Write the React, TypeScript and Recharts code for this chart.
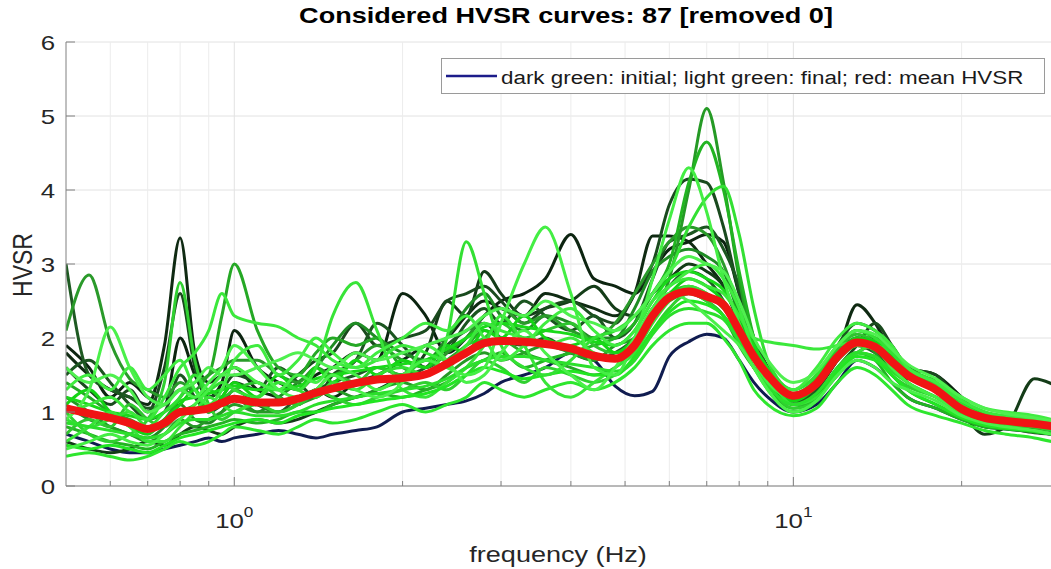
import React from 'react';
import { LineChart, Line, XAxis, YAxis, CartesianGrid, ReferenceLine, Legend, Customized } from 'recharts';

// frequency (Hz) samples
const FREQ = [
  0.5, 0.55, 0.6, 0.65, 0.7, 0.75, 0.8, 0.85, 0.9, 0.95,
  1.0, 1.1, 1.2, 1.3, 1.4, 1.5,
  1.65, 1.8,
  2.0, 2.2, 2.4, 2.6, 2.8, 3.0,
  3.3, 3.6,
  4.0, 4.4, 4.8, 5.2, 5.6,
  6.0, 6.5, 7.0, 7.5, 8.0, 8.5, 9.0,
  10, 11, 12, 13, 14, 15, 16,
  18, 20, 22, 24, 27, 29,
];

const MEAN_HVSR = [
  1.05, 0.98, 0.92, 0.85, 0.77, 0.85, 1.0, 1.02, 1.05, 1.12,
  1.18, 1.13, 1.13, 1.18, 1.26, 1.32,
  1.39, 1.44,
  1.46, 1.51, 1.65, 1.8, 1.93, 1.96,
  1.95, 1.92,
  1.86, 1.76, 1.72, 1.9, 2.3,
  2.55, 2.63, 2.56, 2.45, 2.1, 1.75, 1.5,
  1.22, 1.38, 1.75, 1.94, 1.88, 1.68, 1.5,
  1.3, 1.04, 0.92, 0.88, 0.84, 0.81,
];

const C01 = [3.0, 1.5, 1.3, 1.2, 1.05, 1.1, 1.3, 1.2, 1.0, 1.1, 1.3, 1.1, 1.0, 1.2, 1.3, 1.4, 1.5, 1.6, 1.5, 1.6, 1.9, 2.1, 2.2, 2.0, 1.9, 2.0, 1.8, 1.7, 1.8, 2.0, 2.4, 2.7, 2.9, 2.8, 2.5, 2.0, 1.6, 1.4, 1.15, 1.3, 1.7, 1.9, 1.8, 1.6, 1.4, 1.2, 1.0, 0.9, 0.87, 0.83, 0.8];
const C02 = [2.1, 2.85, 1.95, 1.45, 1.3, 1.2, 1.4, 1.3, 1.5, 1.6, 1.7, 1.7, 1.5, 1.4, 1.6, 1.5, 1.7, 1.9, 1.7, 1.6, 1.8, 2.0, 2.3, 2.4, 2.2, 2.3, 2.1, 2.0, 2.2, 2.6, 3.0, 3.3, 3.5, 3.4, 3.0, 2.4, 1.9, 1.5, 1.2, 1.4, 1.8, 2.0, 1.9, 1.7, 1.5, 1.3, 1.05, 0.95, 0.92, 0.88, 0.85];
const C03 = [1.8, 1.5, 1.3, 1.2, 1.1, 1.9, 3.35, 1.8, 1.4, 1.5, 1.6, 1.3, 1.2, 1.1, 1.3, 1.2, 1.4, 1.5, 1.7, 1.9, 2.0, 2.3, 2.5, 2.4, 2.3, 2.6, 2.5, 2.4, 2.3, 2.6, 3.38, 3.38, 3.3, 3.0, 2.7, 2.2, 1.8, 1.5, 1.1, 1.3, 1.8, 2.45, 2.2, 1.8, 1.5, 1.3, 1.1, 0.9, 0.88, 0.86, 0.85];
const C04 = [1.6, 1.3, 1.1, 1.3, 1.0, 1.6, 2.6, 1.6, 1.2, 1.3, 1.5, 1.4, 1.3, 1.5, 1.7, 1.8, 2.2, 1.9, 2.0, 2.1, 2.5, 2.6, 2.7, 2.5, 2.2, 2.4, 2.5, 2.3, 2.2, 2.6, 3.0, 3.8, 4.15, 4.1, 3.5, 2.6, 1.9, 1.5, 1.1, 1.2, 1.6, 1.9, 2.2, 1.9, 1.6, 1.5, 1.1, 0.8, 0.78, 0.72, 0.7];
const C05 = [1.2, 1.0, 0.8, 0.7, 0.6, 0.7, 0.9, 0.8, 0.9, 1.0, 1.1, 1.0, 1.0, 1.1, 1.2, 1.3, 1.2, 1.3, 1.4, 1.3, 1.5, 1.7, 1.8, 1.7, 1.8, 1.9, 1.8, 1.7, 1.9, 2.0, 2.3, 2.8, 4.0, 5.1, 4.1, 2.8, 1.9, 1.5, 1.2, 1.4, 1.8, 2.0, 1.8, 1.5, 1.3, 1.1, 0.95, 0.85, 0.82, 0.78, 0.75];
const C06 = [0.8, 0.7, 0.6, 0.55, 0.5, 0.6, 0.7, 0.75, 0.8, 0.85, 0.9, 0.85, 0.9, 1.0, 1.0, 1.1, 1.2, 1.25, 1.2, 1.3, 1.4, 1.6, 1.7, 1.8, 1.6, 1.7, 1.8, 1.9, 2.0, 2.2, 2.6, 3.0, 4.1, 4.65, 4.0, 2.9, 2.0, 1.4, 1.05, 1.2, 1.6, 1.8, 1.7, 1.4, 1.2, 1.05, 0.9, 0.8, 0.77, 0.73, 0.7];
const C07 = [0.5, 0.6, 0.7, 0.6, 0.55, 0.7, 0.9, 1.1, 1.3, 1.5, 1.6, 1.4, 1.3, 1.5, 1.4, 1.6, 1.5, 1.3, 1.5, 1.7, 1.6, 1.5, 1.6, 2.2, 3.0, 3.5, 2.6, 1.6, 1.5, 2.0, 2.8, 3.6, 4.3, 3.7, 2.8, 2.2, 1.7, 1.4, 1.2, 1.4, 1.7, 1.9, 1.85, 1.6, 1.4, 1.2, 1.0, 0.9, 0.87, 0.83, 0.8];
const C08 = [0.9, 0.8, 0.9, 1.0, 0.8, 1.0, 1.2, 1.5, 1.3, 1.4, 1.3, 1.2, 1.4, 1.3, 1.2, 1.4, 1.3, 1.5, 1.6, 1.5, 2.0, 3.3, 2.6, 1.9, 1.6, 1.5, 1.7, 2.0, 2.1, 2.3, 2.6, 2.9, 3.5, 3.9, 4.05, 3.4, 2.4, 1.7, 1.3, 1.5, 1.9, 2.1, 2.0, 1.8, 1.55, 1.3, 1.1, 0.95, 0.92, 0.88, 0.85];
const C09 = [1.4, 1.2, 1.0, 0.9, 0.8, 0.9, 1.2, 1.4, 1.5, 2.3, 3.0, 2.1, 1.6, 1.5, 1.8, 2.0, 1.9, 2.0, 1.6, 1.5, 1.7, 1.9, 2.1, 2.0, 1.8, 1.7, 1.6, 1.5, 1.6, 1.9, 2.3, 2.5, 2.6, 2.5, 2.3, 1.9, 1.6, 1.4, 1.2, 1.35, 1.7, 1.9, 1.85, 1.7, 1.5, 1.3, 1.0, 0.9, 0.87, 0.83, 0.8];
const C10 = [1.0, 1.1, 1.2, 1.0, 0.9, 1.2, 1.6, 1.8, 2.1, 2.6, 2.3, 2.2, 2.15, 2.0, 1.9, 1.7, 1.6, 1.7, 1.9, 1.8, 1.7, 1.9, 2.2, 2.1, 2.0, 1.9, 2.0, 1.8, 1.7, 2.0, 2.4, 2.7, 2.8, 2.7, 2.6, 2.3, 2.0, 1.95, 1.9, 1.85, 1.9, 1.95, 1.9, 1.7, 1.5, 1.35, 1.15, 1.0, 0.95, 0.9, 0.85];
const C11 = [0.7, 0.6, 0.5, 0.45, 0.45, 0.5, 0.55, 0.6, 0.65, 0.6, 0.65, 0.7, 0.75, 0.7, 0.65, 0.7, 0.75, 0.8, 1.0, 1.05, 1.1, 1.15, 1.25, 1.4, 1.5, 1.6, 1.8, 1.7, 1.35, 1.22, 1.28, 1.75, 1.95, 2.05, 2.0, 1.7, 1.4, 1.2, 1.0, 1.1, 1.4, 1.7, 1.6, 1.4, 1.2, 1.05, 0.9, 0.8, 0.77, 0.73, 0.7];
const C12 = [1.9, 1.6, 1.2, 1.4, 1.2, 1.1, 2.0, 1.5, 1.2, 1.4, 2.1, 1.6, 1.4, 1.3, 1.5, 1.6, 1.8, 1.7, 2.6, 2.3, 1.8, 2.0, 2.3, 2.5, 2.6, 2.8, 3.4, 2.8, 2.7, 2.6, 2.9, 3.2, 3.3, 3.4, 3.3, 2.6, 2.0, 1.6, 1.15, 1.3, 1.7, 2.0, 2.0, 1.8, 1.6, 1.5, 1.2, 0.9, 0.85, 0.8, 0.75];
const C13 = [0.6, 0.5, 0.45, 0.5, 0.6, 0.55, 0.7, 0.8, 0.75, 0.7, 0.8, 0.9, 0.85, 0.9, 1.0, 1.1, 1.2, 1.3, 1.5, 1.8, 2.5, 2.3, 2.9, 2.6, 2.3, 2.4, 2.5, 2.7, 2.4, 2.3, 2.6, 2.8, 3.0, 2.9, 2.7, 2.2, 1.7, 1.4, 1.1, 1.2, 1.5, 1.8, 1.9, 1.7, 1.45, 1.45, 1.0, 0.7, 0.8, 1.45, 1.38];
const C14 = [0.4, 0.45, 0.4, 0.35, 0.4, 0.5, 0.6, 0.55, 0.6, 0.7, 0.8, 0.75, 0.7, 0.8, 0.9, 0.85, 0.9, 1.0, 1.1, 1.0, 1.1, 1.2, 1.4, 1.3, 1.2, 1.3, 1.4, 1.3, 1.4, 1.6, 1.9, 2.1, 2.2, 2.2, 2.0, 1.7, 1.3, 1.1, 0.95, 1.05, 1.4, 1.6, 1.5, 1.3, 1.1, 0.95, 0.85, 0.75, 0.7, 0.65, 0.6];
const C15 = [1.3, 1.5, 1.3, 1.6, 1.3, 1.5, 1.7, 1.3, 1.1, 1.3, 1.7, 1.9, 1.5, 1.7, 2.0, 1.8, 1.6, 1.8, 2.0, 2.2, 2.1, 2.3, 2.0, 1.7, 1.9, 2.2, 2.4, 2.1, 1.9, 2.1, 2.5, 2.7, 2.9, 3.0, 2.8, 2.4, 1.8, 1.5, 1.3, 1.6, 2.0, 2.2, 2.1, 1.9, 1.6, 1.4, 1.2, 1.05, 1.0, 0.95, 0.9];
const C16 = [1.1, 0.9, 0.8, 0.7, 0.65, 0.8, 1.1, 0.9, 0.85, 1.0, 1.2, 1.0, 1.2, 1.4, 1.6, 1.9, 2.2, 2.0, 1.8, 1.7, 2.0, 2.4, 2.6, 2.3, 2.1, 2.3, 2.2, 2.0, 2.0, 2.4, 2.9, 3.1, 3.2, 3.1, 2.9, 2.3, 1.8, 1.5, 1.25, 1.4, 1.8, 2.1, 2.0, 1.85, 1.6, 1.35, 1.1, 0.95, 0.9, 0.85, 0.8];
const C17 = [0.6, 0.8, 1.0, 0.8, 0.6, 0.6, 0.8, 1.0, 1.2, 1.1, 1.0, 1.2, 1.4, 1.3, 1.6, 2.3, 2.75, 2.1, 1.3, 1.2, 1.4, 1.6, 1.9, 2.3, 1.9, 1.4, 1.2, 1.4, 1.6, 1.8, 2.2, 2.5, 2.7, 2.6, 2.4, 2.1, 1.8, 1.5, 1.1, 1.2, 1.5, 1.8, 1.9, 1.8, 1.6, 1.4, 1.15, 1.0, 0.9, 0.85, 0.8];
const C18 = [1.5, 1.7, 1.4, 1.1, 0.9, 1.0, 1.5, 1.2, 1.0, 1.2, 1.4, 1.3, 1.6, 1.4, 1.2, 1.5, 1.7, 2.2, 1.9, 1.6, 1.8, 2.2, 2.4, 2.2, 2.5, 2.3, 2.1, 2.3, 2.0, 2.2, 2.8, 3.3, 3.4, 3.5, 3.2, 2.7, 2.0, 1.6, 1.2, 1.35, 1.9, 2.2, 2.1, 1.9, 1.6, 1.4, 1.15, 0.95, 0.85, 0.75, 0.7];
const C19 = [0.9, 1.3, 2.15, 1.6, 1.2, 1.1, 1.3, 1.2, 1.4, 1.6, 1.9, 1.6, 1.3, 1.2, 1.3, 1.5, 1.3, 1.2, 1.4, 1.9, 1.7, 1.4, 1.5, 1.8, 2.1, 1.8, 1.5, 1.3, 1.6, 2.0, 2.4, 2.6, 2.5, 2.3, 2.1, 1.9, 1.6, 1.3, 1.0, 1.15, 1.5, 1.7, 1.6, 1.4, 1.3, 1.15, 0.95, 0.85, 0.8, 0.75, 0.7];
const C20 = [1.0, 0.7, 0.6, 0.7, 0.9, 1.4, 2.75, 1.7, 1.1, 0.9, 1.0, 1.1, 1.0, 1.1, 1.3, 1.2, 1.1, 1.2, 1.3, 1.4, 1.3, 1.5, 1.7, 1.6, 1.4, 1.6, 1.5, 1.4, 1.5, 1.7, 2.1, 2.4, 2.6, 2.5, 2.3, 2.0, 1.7, 1.4, 1.05, 1.15, 1.6, 1.8, 1.75, 1.5, 1.35, 1.2, 1.0, 0.9, 0.85, 0.8, 0.75];
const C21 = [1.2, 1.1, 1.0, 0.95, 0.9, 1.0, 1.15, 1.2, 1.25, 1.3, 1.35, 1.3, 1.3, 1.35, 1.45, 1.5, 1.55, 1.6, 1.65, 1.7, 1.85, 2.0, 2.15, 2.2, 2.15, 2.1, 2.05, 1.95, 1.9, 2.1, 2.5, 2.8, 2.9, 2.8, 2.65, 2.3, 1.9, 1.6, 1.3, 1.5, 1.9, 2.1, 2.0, 1.8, 1.6, 1.4, 1.1, 0.97, 0.92, 0.88, 0.85];
const C22 = [0.85, 0.8, 0.75, 0.7, 0.65, 0.7, 0.85, 0.9, 0.9, 0.95, 1.0, 0.95, 0.95, 1.0, 1.1, 1.15, 1.2, 1.25, 1.3, 1.35, 1.45, 1.6, 1.7, 1.75, 1.75, 1.7, 1.65, 1.6, 1.55, 1.7, 2.05, 2.3, 2.4, 2.35, 2.25, 1.95, 1.6, 1.35, 1.1, 1.25, 1.6, 1.8, 1.75, 1.55, 1.4, 1.2, 0.98, 0.87, 0.83, 0.8, 0.77];
const C23 = [1.1, 1.3, 1.0, 0.8, 0.7, 0.9, 1.1, 1.3, 1.0, 1.2, 1.4, 1.2, 1.5, 1.3, 1.6, 1.4, 1.7, 1.5, 1.7, 1.6, 1.9, 1.8, 2.1, 2.0, 2.3, 2.0, 1.9, 2.0, 1.8, 2.0, 2.4, 2.6, 2.8, 2.7, 2.5, 2.2, 1.8, 1.45, 1.15, 1.35, 1.75, 2.0, 1.95, 1.75, 1.5, 1.3, 1.05, 0.95, 0.9, 0.85, 0.82];
const C24 = [0.7, 0.9, 0.8, 1.1, 0.9, 0.8, 1.0, 1.1, 1.3, 1.2, 1.3, 1.4, 1.2, 1.1, 1.3, 1.5, 1.4, 1.6, 1.5, 1.7, 1.6, 1.9, 2.0, 2.2, 2.0, 2.1, 2.2, 1.9, 1.8, 1.9, 2.3, 2.6, 2.7, 2.6, 2.4, 2.1, 1.75, 1.5, 1.25, 1.45, 1.85, 2.05, 1.95, 1.75, 1.55, 1.35, 1.1, 0.98, 0.92, 0.87, 0.84];
const C25 = [0.55, 0.5, 0.55, 0.5, 0.45, 0.55, 0.65, 0.7, 0.75, 0.8, 0.85, 0.9, 0.85, 0.95, 1.0, 1.05, 1.1, 1.15, 1.2, 1.25, 1.35, 1.5, 1.6, 1.55, 1.45, 1.5, 1.55, 1.5, 1.5, 1.75, 2.1, 2.35, 2.5, 2.45, 2.3, 2.0, 1.6, 1.3, 1.0, 1.15, 1.55, 1.75, 1.7, 1.5, 1.3, 1.1, 0.92, 0.82, 0.78, 0.74, 0.7];
const C26 = [1.6, 1.4, 1.5, 1.3, 1.0, 1.1, 1.3, 1.4, 1.6, 1.5, 1.5, 1.6, 1.7, 1.8, 1.7, 1.6, 1.8, 1.7, 1.8, 1.9, 2.0, 2.1, 2.3, 2.4, 2.3, 2.5, 2.3, 2.2, 2.1, 2.3, 2.6, 2.9, 3.1, 3.0, 2.9, 2.5, 2.0, 1.7, 1.4, 1.55, 1.9, 2.1, 2.05, 1.85, 1.65, 1.45, 1.2, 1.05, 0.98, 0.92, 0.88];

// draw order: initial (dark) first, final (light) last
const CURVES = [
  { key: 'c11', color: '#101c50', values: C11 },
  { key: 'c03', color: '#0f2a12', values: C03 },
  { key: 'c12', color: '#0c2410', values: C12 },
  { key: 'c13', color: '#143c18', values: C13 },
  { key: 'c04', color: '#1a4a1e', values: C04 },
  { key: 'c01', color: '#1e5a22', values: C01 },
  { key: 'c18', color: '#1b5520', values: C18 },
  { key: 'c16', color: '#1f8c24', values: C16 },
  { key: 'c02', color: '#2a9a2a', values: C02 },
  { key: 'c05', color: '#259a25', values: C05 },
  { key: 'c09', color: '#25a825', values: C09 },
  { key: 'c06', color: '#22b422', values: C06 },
  { key: 'c24', color: '#2fc42f', values: C24 },
  { key: 'c20', color: '#30d030', values: C20 },
  { key: 'c23', color: '#14d414', values: C23 },
  { key: 'c14', color: '#2ee62e', values: C14 },
  { key: 'c21', color: '#19d919', values: C21 },
  { key: 'c17', color: '#38e438', values: C17 },
  { key: 'c25', color: '#22e622', values: C25 },
  { key: 'c08', color: '#33e033', values: C08 },
  { key: 'c22', color: '#2bdf2b', values: C22 },
  { key: 'c10', color: '#3be83b', values: C10 },
  { key: 'c07', color: '#44ee44', values: C07 },
  { key: 'c15', color: '#40ec40', values: C15 },
  { key: 'c26', color: '#4ff04f', values: C26 },
  { key: 'c19', color: '#4af04a', values: C19 },
];

const X_TICKS = [0.6, 0.7, 0.8, 0.9, 1, 2, 3, 4, 5, 6, 7, 8, 9, 10, 20];
const X_MAJOR = [1, 10];
const Y_TICKS = [0, 1, 2, 3, 4, 5, 6];

const TITLE = 'Considered HVSR curves: 87 [removed 0]';
const X_LABEL = 'frequency (Hz)';
const Y_LABEL = 'HVSR';
const LEGEND_TEXT = 'dark green: initial; light green: final; red: mean HVSR';

const ROWS = FREQ.map((f, i) => {
  const r: Record<string, number> = { f, mean: MEAN_HVSR[i] };
  CURVES.forEach((c) => { r[c.key] = c.values[i]; });
  return r;
});

const FONT = "'Liberation Sans', Arial, Helvetica, sans-serif";
const SX = 1.23;
const AXIS = '#808080';
const TXT = '#262626';

function BottomTick(props: any) {
  const { x, y, payload } = props;
  const v = payload.value;
  const major = X_MAJOR.includes(v);
  return (
    <g>
      <line x1={x} x2={x} y1={y} y2={y - (major ? 9 : 5)} stroke={AXIS} strokeWidth={1} />
      {major && (
        <g transform={`translate(${x},${y}) scale(${SX},1)`}>
          <text x={0} y={42} textAnchor="middle" fontSize={21} fill={TXT} fontFamily={FONT}>
            <tspan>10</tspan>
            <tspan dy={-11} fontSize={14}>{String(Math.round(Math.log10(v)))}</tspan>
          </text>
        </g>
      )}
    </g>
  );
}

function TopTick(props: any) {
  const { x, y, payload } = props;
  const major = X_MAJOR.includes(payload.value);
  return <line x1={x} x2={x} y1={y} y2={y + (major ? 9 : 5)} stroke={AXIS} strokeWidth={1} />;
}

function LeftTick(props: any) {
  const { x, y, payload } = props;
  return (
    <g>
      <line x1={x} x2={x + 9} y1={y} y2={y} stroke={AXIS} strokeWidth={1} />
      <g transform={`translate(${x - 11},${y}) scale(${SX},1)`}>
        <text x={0} y={0} dy="0.36em" textAnchor="end" fontSize={21} fill={TXT} fontFamily={FONT}>
          {payload.value}
        </text>
      </g>
    </g>
  );
}

function RightTick(props: any) {
  const { x, y } = props;
  return <line x1={x} x2={x - 9} y1={y} y2={y} stroke={AXIS} strokeWidth={1} />;
}

function Texts() {
  return (
    <g fontFamily={FONT}>
      <text transform={`translate(566,23) scale(${SX},1)`} textAnchor="middle" fontWeight="bold" fontSize={22} fill="#000">
        {TITLE}
      </text>
      <text transform={`translate(558,562) scale(${SX},1)`} textAnchor="middle" fontSize={22} fill={TXT}>
        {X_LABEL}
      </text>
      <text transform={`translate(22,265) scale(${SX},1) rotate(-90)`} textAnchor="middle" dy="0.36em" fontSize={23} fill={TXT}>
        {Y_LABEL}
      </text>
    </g>
  );
}

function LegendBox() {
  return (
    <svg width={606} height={37} style={{ display: 'block' }}>
      <rect x={0.5} y={0.5} width={603} height={35} fill="#fff" stroke="#9a9a9a" strokeWidth={1} />
      <line x1={5} x2={56} y1={18} y2={18} stroke="#1c1c8a" strokeWidth={2.6} />
      <g transform={`translate(60,26) scale(${SX},1)`}>
        <text x={0} y={0} fontSize={18.2} fill="#1a1a1a" fontFamily={FONT}>{LEGEND_TEXT}</text>
      </g>
    </svg>
  );
}

export default function App() {
  return (
    <div style={{ position: 'absolute', left: 0, top: 0, width: 1051, height: 569, overflow: 'hidden', background: '#fff' }}>
      <LineChart
        width={1058}
        height={569}
        data={ROWS}
        margin={{ top: 42, right: 2, bottom: 22, left: 0 }}
        style={{ fontFamily: FONT }}
      >
        <CartesianGrid vertical={false} stroke="#e2e2e2" strokeWidth={1} />
        {X_TICKS.map((v) => (
          <ReferenceLine
            key={'g' + v}
            x={v}
            stroke={X_MAJOR.includes(v) ? '#e2e2e2' : '#ececec'}
            strokeWidth={1}
          />
        ))}
        <XAxis
          dataKey="f"
          type="number"
          scale="log"
          domain={[0.5, 29.5]}
          allowDataOverflow
          ticks={X_TICKS}
          interval={0}
          tickSize={0}
          tickMargin={0}
          tickLine={false}
          axisLine={{ stroke: AXIS }}
          tick={(p: any) => <BottomTick {...p} />}
          height={61}
        />
        <XAxis
          xAxisId="top"
          orientation="top"
          dataKey="f"
          type="number"
          scale="log"
          domain={[0.5, 29.5]}
          allowDataOverflow
          ticks={X_TICKS}
          interval={0}
          tickSize={0}
          tickMargin={0}
          tickLine={false}
          axisLine={{ stroke: AXIS }}
          tick={(p: any) => <TopTick {...p} />}
          height={0}
        />
        <YAxis
          type="number"
          domain={[0, 6]}
          ticks={Y_TICKS}
          interval={0}
          tickSize={0}
          tickMargin={0}
          tickLine={false}
          axisLine={{ stroke: AXIS }}
          tick={(p: any) => <LeftTick {...p} />}
          width={66}
        />
        <YAxis
          yAxisId="right"
          orientation="right"
          type="number"
          domain={[0, 6]}
          ticks={Y_TICKS}
          interval={0}
          tickSize={0}
          tickMargin={0}
          tickLine={false}
          axisLine={{ stroke: AXIS }}
          tick={(p: any) => <RightTick {...p} />}
          width={0}
        />
        {CURVES.map((c) => (
          <Line
            key={c.key}
            dataKey={c.key}
            type="monotone"
            stroke={c.color}
            strokeWidth={3}
            dot={false}
            activeDot={false}
            legendType="none"
            isAnimationActive={false}
          />
        ))}
        <Line
          dataKey="mean"
          type="monotone"
          stroke="#f01414"
          strokeWidth={8}
          dot={false}
          activeDot={false}
          legendType="none"
          isAnimationActive={false}
        />
        <Legend
          layout="horizontal"
          verticalAlign="middle"
          align="center"
          content={() => <LegendBox />}
          wrapperStyle={{ position: 'absolute', left: 441, top: 58, width: 606, height: 37, margin: 0, padding: 0 }}
        />
        <Customized component={Texts} />
      </LineChart>
    </div>
  );
}
